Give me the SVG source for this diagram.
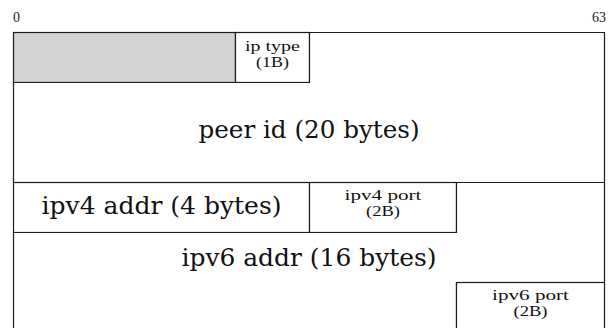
<svg xmlns="http://www.w3.org/2000/svg" width="613" height="328" viewBox="0 0 613 328">
  <style>
    .field { stroke: #1a1a1a; stroke-width: 1.2; fill: #ffffff; }
    .reserved { fill: #d3d3d3; }
    .big { font-family: "DejaVu Serif", "Liberation Serif", serif; font-size: 24px; fill: #111; text-anchor: middle; }
    .small { font-family: "Liberation Serif", serif; font-size: 14px; fill: #111; text-anchor: middle; }
    .bit { font-family: "Liberation Serif", serif; font-size: 14px; fill: #222; }
  </style>
  <rect width="613" height="328" fill="#ffffff"/>

  <!-- bit index ruler -->
  <g id="ruler">
    <text class="bit" x="13" y="22">0</text>
    <text class="bit" x="606" y="22" text-anchor="end">63</text>
  </g>

  <!-- row 0: 24 reserved bits + 8-bit ip type -->
  <g id="reserved">
    <rect class="field reserved" x="13.5" y="32.5" width="222" height="50"/>
  </g>
  <g id="ip-type">
    <rect class="field" x="235.5" y="32.5" width="74" height="50"/>
    <text class="small" x="272.5" y="51" textLength="55" lengthAdjust="spacingAndGlyphs">ip type</text>
    <text class="small" x="272.5" y="67" textLength="33" lengthAdjust="spacingAndGlyphs">(1B)</text>
  </g>

  <!-- peer id: 160 bits, wraps from row 0 into rows 1-2 -->
  <g id="peer-id">
    <path class="field" d="M309.5 32.5 H604.5 V182.5 H13.5 V82.5 H309.5 Z"/>
    <text class="big" x="309" y="138" textLength="221" lengthAdjust="spacingAndGlyphs">peer id (20 bytes)</text>
  </g>

  <!-- row 3: ipv4 address and port -->
  <g id="ipv4-addr">
    <rect class="field" x="13.5" y="182.5" width="296" height="50"/>
    <text class="big" x="161.5" y="214" textLength="240" lengthAdjust="spacingAndGlyphs">ipv4 addr (4 bytes)</text>
  </g>
  <g id="ipv4-port">
    <rect class="field" x="309.5" y="182.5" width="147" height="50"/>
    <text class="small" x="383" y="200" textLength="77" lengthAdjust="spacingAndGlyphs">ipv4 port</text>
    <text class="small" x="383" y="216" textLength="34" lengthAdjust="spacingAndGlyphs">(2B)</text>
  </g>

  <!-- ipv6 address: 128 bits, wraps from row 3 to row 5 -->
  <g id="ipv6-addr">
    <path class="field" d="M456.5 182.5 H604.5 V282.5 H456.5 V340 H13.5 V232.5 H456.5 Z"/>
    <text class="big" x="309" y="266" textLength="255" lengthAdjust="spacingAndGlyphs">ipv6 addr (16 bytes)</text>
  </g>
  <g id="ipv6-port">
    <rect class="field" x="456.5" y="282.5" width="148" height="60"/>
    <text class="small" x="530.5" y="300" textLength="77" lengthAdjust="spacingAndGlyphs">ipv6 port</text>
    <text class="small" x="530.5" y="316" textLength="34" lengthAdjust="spacingAndGlyphs">(2B)</text>
  </g>
</svg>
